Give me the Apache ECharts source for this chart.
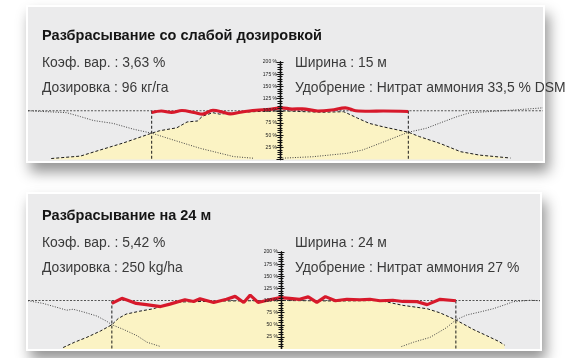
<!DOCTYPE html>
<html><head><meta charset="utf-8">
<script src="https://cdn.jsdelivr.net/npm/echarts@6/dist/echarts.min.js"></script>
<style>
html,body{margin:0;padding:0;background:#fff;width:573px;height:358px;overflow:hidden;position:relative}
.panel{position:absolute;background:#ebebec;border:2px solid #fff;box-shadow:4px 9px 13px rgba(0,0,0,0.42);box-sizing:border-box}
#p1{left:26px;top:5px;width:519px;height:158px}
#p2{left:26px;top:192px;width:516px;height:159px}
#chart{position:absolute;left:0;top:0;width:573px;height:349px;z-index:2}
</style></head>
<body>
<div class="panel" id="p1"></div>
<div class="panel" id="p2"></div>
<div id="chart"></div>
<script>
// ---------- Panel 1 data (x in m, y in %) ----------
const p1Title = 'Разбрасывание со слабой дозировкой';
const p1Left = ['Коэф. вар. : 3,63 %', 'Дозировка : 96 кг/га'];
const p1Right = ['Ширина : 15 м', 'Удобрение : Нитрат аммония 33,5 % DSM'];
const p1Range = [-14.65, 15.29];
const p1Edges = [-7.46, 7.46];
const p1RedX = [-7.46,-6.9,-6.3,-5.7,-5.0,-4.5,-3.9,-3.3,-2.9,-2.3,-1.4,-0.6,0.1,0.7,1.3,2.2,3.0,3.8,4.4,5.2,6.0,7.46];
const p1RedY = [96.5,99.5,96.5,100.5,96.5,93,101,97,93.5,97,101,103,106,103.5,104,99.5,101.5,106,100,99,99.5,98.5];
const p1MainX = [-13.3,-11.6,-10.5,-9.1,-7.46,-7.0,-6.0,-5.4,-4.8,-4.5,-3.9,-3.5,-2.7,-1.6,0,1.5,2.5,3.7,3.9,4.5,5.2,6.0,7.46,8.1,9.3,10.5,11.6,13.4];
const p1MainY = [2,7,19,34,54,59,65,77,79,89,96,93,96,98,100,98,97,98,95,85,74,67,56,47,33,16,9,3];
const p1LeftX = [-14.65,-12.4,-11.6,-10.85,-9.7,-8.5,-7.46,-6.2,-4.65,-2.7,-1.5];
const p1LeftY = [100,96,88,80,74,62,54,40,23,6,2.5];
const p1RightX = [0,1.9,3.9,4.8,5.8,7.46,8.5,9.5,10.3,11.05,12.0,13.6,15.29];
const p1RightY = [2.5,5.7,12.7,19.5,33,56,64,77.5,88,96,98,101.5,106];

// ---------- Panel 2 data ----------
const p2Title = 'Разбрасывание на 24 м';
const p2Left = ['Коэф. вар. : 5,42 %', 'Дозировка : 250 kg/ha'];
const p2Right = ['Ширина : 24 м', 'Удобрение : Нитрат аммония 27 %'];
const p2Range = [-17.65, 18.07];
const p2Edges = [-11.8, 12.2];
const p2RedX = [-11.8,-11.1,-10.7,-10.1,-9.4,-8.4,-7.75,-6.7,-6.1,-5.65,-4.7,-3.8,-3.2,-2.6,-2.15,-1.6,-0.8,-0.05,0.6,1.3,1.9,2.5,3.1,3.8,4.6,5.5,6.2,6.9,7.8,8.5,9.5,10.2,11.1,12.2];
const p2RedY = [94,104.5,100.5,94,91.5,87.5,92.5,101.5,98,103.5,96,102.5,108.5,96,111,96,101.5,106,104.5,102.5,107.5,96,108,99.5,102.5,101.5,102.5,99.5,100.5,98,97.5,91.5,102.5,99.5];
const p2MainX = [-15.2,-14.4,-13.55,-12.6,-11.8,-11.35,-10.8,-9.85,-8.9,-8.4,-7,-4,0,4,6.9,8.5,10.2,11.1,12.2,13.4,14.35,15.2,15.6];
const p2MainY = [3,14,24,37,50,63,72,78,83,88,97,99,100,99,100,90,83,74.5,60,40.5,27.5,15.5,8];
const p2LeftX = [-17.65,-16.6,-15.65,-14.95,-14.5,-13.8,-12.85,-12.15,-11.8,-11.0,-10.05,-9.35,-8.4];
const p2LeftY = [99.5,94,86,80,82,76.5,68,57,50,40.5,27.5,14,5];
const p2RightX = [8.4,9.25,10.4,11.55,12.2,12.95,13.9,14.8,15.75,16.2,17.4,18.07];
const p2RightY = [5,14,24,44,60,70,76.5,83,92.5,97.5,100.5,99.5];

const yTicks = [0, 200, 25]; // min, max, interval

const chart = echarts.init(document.getElementById('chart'));
const pts = (xs, ys) => xs.map((x, i) => [x, ys[i]]);

const grids = [
  {left: 28, top: 62, width: 515, height: 97.5},
  {left: 28, top: 252, width: 512, height: 102}
];
const ranges = [p1Range, p2Range];

function axisX(g, r) { return g.left + (0 - r[0]) / (r[1] - r[0]) * g.width; }

const xAxes = grids.map((g, i) => ({gridIndex: i, type: 'value', min: ranges[i][0], max: ranges[i][1], show: false, axisLine: {onZero: false}}));
const yAxes = [];
grids.forEach((g, i) => {
  const ax = axisX(g, ranges[i]);
  const common = {
    gridIndex: i, type: 'value', min: yTicks[0], max: yTicks[1], interval: yTicks[2], z: 8,
    splitLine: {show: false},
    axisLine: {show: true, onZero: false, lineStyle: {color: '#111', width: 1.3}},
    axisTick: {show: true, length: 3.5, lineStyle: {color: '#111', width: 1}},
    minorTick: {show: true, splitNumber: 5, length: 2.5, lineStyle: {color: '#111', width: 1}},
    minorSplitLine: {show: false}
  };
  yAxes.push(Object.assign({}, common, {
    position: 'left', offset: -(ax - g.left),
    axisLabel: {show: true, fontSize: 5, margin: 3, color: '#222', fontFamily: 'Liberation Sans',
      formatter: v => v === 0 ? '' : v + ' %'}
  }));
  yAxes.push(Object.assign({}, common, {
    position: 'right', offset: -(g.left + g.width - ax),
    axisLabel: {show: false}
  }));
});

const yellow = '#fbf3c4';
function panelSeries(i, range, edges, redX, redY, mainX, mainY, lX, lY, rX, rY, redSmooth) {
  const base = {type: 'line', xAxisIndex: i, yAxisIndex: i * 2, symbol: 'none', silent: true, animation: false};
  return [
    Object.assign({}, base, {data: pts(mainX, mainY), z: 1,
      lineStyle: {color: '#1a1a1a', width: 1, type: [3, 2]},
      areaStyle: {color: yellow, opacity: 1}}),
    Object.assign({}, base, {data: [[range[0], 100], [range[1], 100]], z: 3,
      lineStyle: {color: '#555', width: 1, type: [2, 1.5]}}),
    Object.assign({}, base, {data: pts(lX, lY), z: 3,
      lineStyle: {color: '#444', width: 1, type: [1, 1.5]}}),
    Object.assign({}, base, {data: pts(rX, rY), z: 3,
      lineStyle: {color: '#444', width: 1, type: [1, 1.5]}}),
    Object.assign({}, base, {data: [[edges[0], 100], [edges[0], 0]], z: 3,
      lineStyle: {color: '#1a1a1a', width: 1, type: [3, 2]}}),
    Object.assign({}, base, {data: [[edges[1], 100], [edges[1], 0]], z: 3,
      lineStyle: {color: '#1a1a1a', width: 1, type: [3, 2]}}),
    Object.assign({}, base, {data: pts(redX, redY), z: 5, smooth: redSmooth,
      lineStyle: {color: '#d7192b', width: 3.2}})
  ];
}

const series = [].concat(
  panelSeries(0, p1Range, p1Edges, p1RedX, p1RedY, p1MainX, p1MainY, p1LeftX, p1LeftY, p1RightX, p1RightY, 0.35),
  panelSeries(1, p2Range, p2Edges, p2RedX, p2RedY, p2MainX, p2MainY, p2LeftX, p2LeftY, p2RightX, p2RightY, false)
);

const font = '13.9px "Liberation Sans", Arial, sans-serif';
const bold = 'bold 14.5px "Liberation Sans", Arial, sans-serif';
function txt(t, x, y, f, c) {
  return {type: 'text', x: x, y: y, z: 10, style: {text: t, font: f, fill: c, verticalAlign: 'middle', align: 'left'}};
}
const graphic = [
  txt(p1Title, 42, 36, bold, '#151515'),
  txt(p1Left[0], 42, 63, font, '#3a3a3a'),
  txt(p1Left[1], 42, 88, font, '#3a3a3a'),
  txt(p1Right[0], 295, 63, font, '#3a3a3a'),
  txt(p1Right[1], 295, 88, font, '#3a3a3a'),
  txt(p2Title, 42, 216, bold, '#151515'),
  txt(p2Left[0], 42, 243, font, '#3a3a3a'),
  txt(p2Left[1], 42, 268, font, '#3a3a3a'),
  txt(p2Right[0], 295, 243, font, '#3a3a3a'),
  txt(p2Right[1], 295, 268, font, '#3a3a3a')
];

chart.setOption({
  animation: false,
  backgroundColor: 'transparent',
  grid: grids,
  xAxis: xAxes,
  yAxis: yAxes,
  series: series,
  graphic: graphic
});
</script>
</body></html>
